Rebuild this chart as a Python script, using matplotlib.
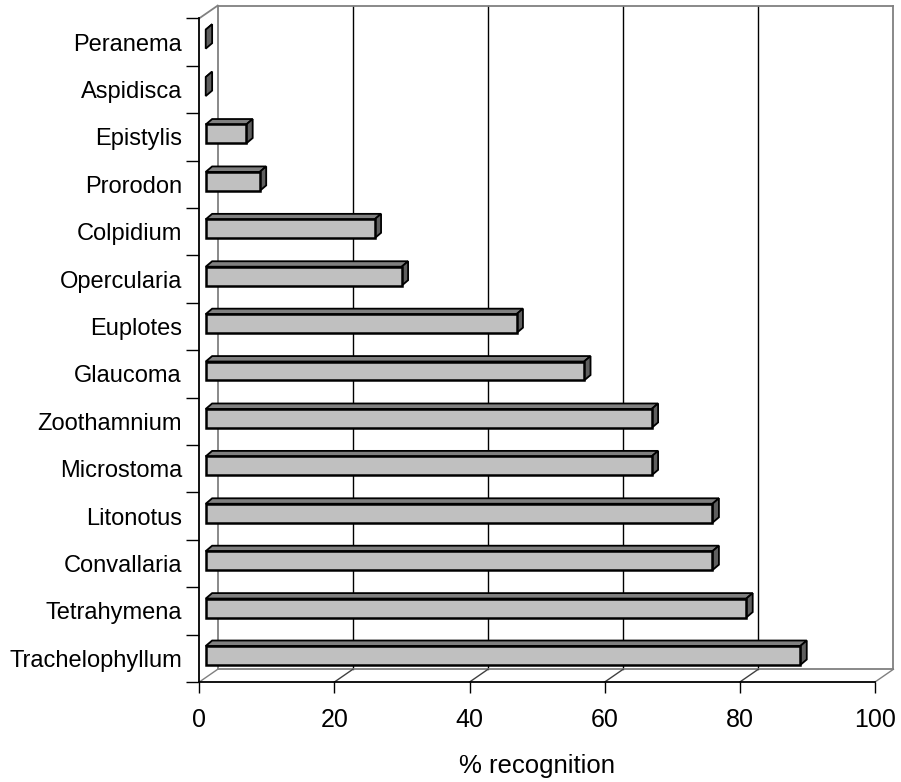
import numpy as np
import matplotlib.pyplot as plt
from matplotlib.patches import Polygon

plt.rcParams['font.family'] = ['Liberation Sans', 'DejaVu Sans']

# data, top to bottom as in the chart
species = ['Peranema', 'Aspidisca', 'Epistylis', 'Prorodon', 'Colpidium',
           'Opercularia', 'Euplotes', 'Glaucoma', 'Zoothamnium', 'Microstoma',
           'Litonotus', 'Convallaria', 'Tetrahymena', 'Trachelophyllum']
recognition = [0, 0, 6, 8, 25, 29, 46, 56, 66, 66, 75, 75, 80, 88]
xticks = [0, 20, 40, 60, 80, 100]

# bottom-to-top order for plotting
names = species[::-1]
vals = recognition[::-1]
n = len(names)

# 3d look: depth offset of the back wall, in data units
DX, DY = 2.72, 0.268
# bars sit a bit behind the front plane and have a small depth
BX0, BY0 = 0.95, 0.06
BDX, BDY = 0.95, 0.115
BH = 0.40

FRONT = '#c0c0c0'
TOP = '#808080'
SIDE = '#5f5f5f'
WALL = '#808080'

fig = plt.figure(figsize=(9.01, 7.82), dpi=100)
ax = fig.add_axes([199.3 / 901, 100 / 782, 675.7 / 901, 663.7 / 782])
ax.set_xlim(0, 100)
ax.set_ylim(-0.5, n - 0.5)
ax.patch.set_visible(False)

y0, y1 = -0.5, n - 0.5

# back wall gridlines
for t in xticks[1:-1]:
    ax.plot([t + DX, t + DX], [y0 + DY, y1 + DY], color='black', lw=1.0,
            clip_on=False, zorder=1)
# wall outline
ax.plot([DX, DX], [y0 + DY, y1 + DY], color=WALL, lw=1.3, clip_on=False, zorder=1)
ax.plot([100 + DX, 100 + DX], [y0 + DY, y1 + DY], color=WALL, lw=1.3, clip_on=False, zorder=1)
ax.plot([DX, 100 + DX], [y1 + DY, y1 + DY], color=WALL, lw=1.3, clip_on=False, zorder=1)
ax.plot([0, DX], [y1, y1 + DY], color=WALL, lw=1.3, clip_on=False, zorder=1)
# floor
ax.plot([DX, 100 + DX], [y0 + DY, y0 + DY], color=WALL, lw=1.3, clip_on=False, zorder=1)
for t in xticks:
    c = WALL if t in (0, 100) else '#404040'
    ax.plot([t, t + DX], [y0, y0 + DY], color=c, lw=1.0, clip_on=False, zorder=1)

# 3d bars
for i, v in enumerate(vals):
    xa = BX0
    xb = BX0 + v
    yb = i + BY0 - BH / 2
    yt = i + BY0 + BH / 2
    top = Polygon([(xa, yt), (xb, yt), (xb + BDX, yt + BDY), (xa + BDX, yt + BDY)],
                  closed=True, facecolor=TOP, edgecolor='black', lw=1.3, zorder=3)
    side = Polygon([(xb, yb), (xb + BDX, yb + BDY), (xb + BDX, yt + BDY), (xb, yt)],
                   closed=True, facecolor=SIDE, edgecolor='black', lw=1.3, zorder=3)
    ax.add_patch(top)
    ax.add_patch(side)
    if v > 0:
        ax.add_patch(Polygon([(xa, yb), (xb, yb), (xb, yt), (xa, yt)], closed=True,
                             facecolor=FRONT, edgecolor='black', lw=1.8, zorder=4))

# axes
for s in ['top', 'right']:
    ax.spines[s].set_visible(False)
for s in ['left', 'bottom']:
    ax.spines[s].set(color='black', lw=1.3, zorder=5)

ax.set_xticks(xticks)
ax.set_xticklabels([str(t) for t in xticks], fontsize=18)
ax.tick_params(axis='x', direction='out', length=8, width=1.0, pad=11, color='black')

ax.set_yticks(np.arange(-0.5, n, 1.0))
ax.set_yticklabels([])
ax.set_yticks(np.arange(n), minor=True)
ax.set_yticklabels(names, minor=True, fontsize=17)
ax.tick_params(axis='y', which='major', direction='out', length=9.4, width=1.0)
ax.tick_params(axis='y', which='minor', length=0, pad=12.5)

ax.set_xlabel('% recognition', fontsize=18.5)
ax.xaxis.set_label_coords(0.5, -0.1266)
ax.xaxis.label.set_va('center')

fig.savefig('out.png', dpi=100)
